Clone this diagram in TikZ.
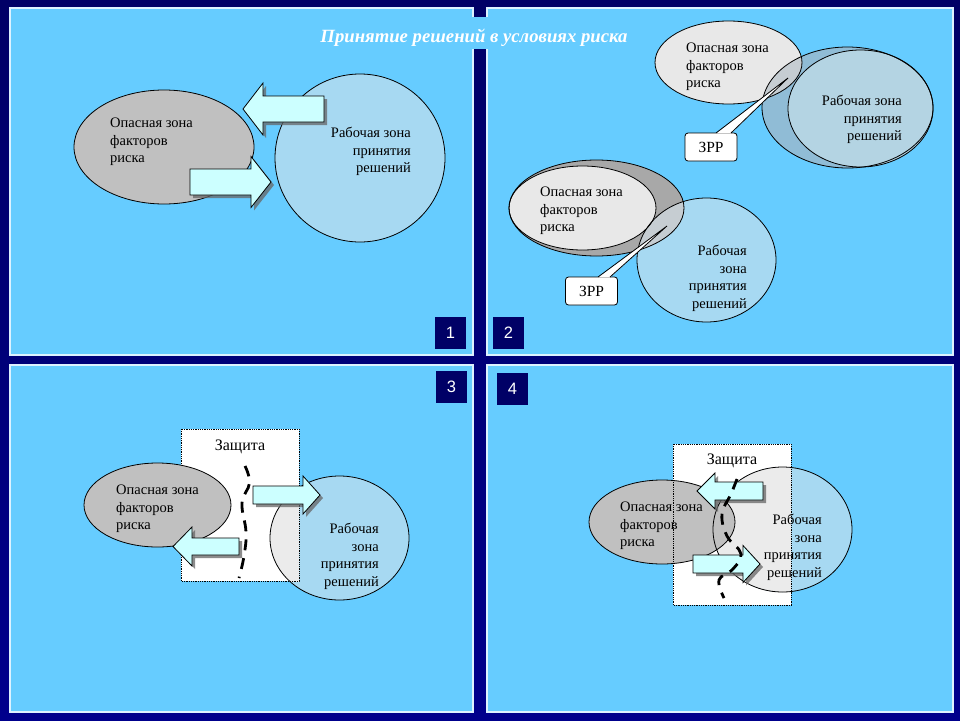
\documentclass[tikz,border=0pt]{standalone}
\usepackage{fontspec}
\setmainfont{Liberation Serif}
\newfontfamily\numfont{Liberation Sans}
\definecolor{bgtop}{HTML}{000066}
\definecolor{bgbot}{HTML}{00008C}
\definecolor{panelc}{HTML}{66CCFF}
\definecolor{panelborder}{HTML}{DDF2FF}
\definecolor{grayc}{HTML}{C0C0C0}
\definecolor{lgray}{HTML}{E8E8E8}
\definecolor{rgray}{HTML}{EBEBEB}
\definecolor{bluec}{HTML}{A7D9F2}
\definecolor{arrc}{HTML}{CCFFFF}
\definecolor{navyc}{HTML}{000066}
\definecolor{outerblue}{HTML}{90BCD6}
\definecolor{innerblue}{HTML}{B4D4E3}
\definecolor{mixgray}{HTML}{C6CDD2}
\definecolor{darkgray}{HTML}{A8A8A8}
\tikzset{
  panelbox/.style={fill=panelc, draw=panelborder, line width=1.3pt},
  shapeline/.style={draw=black, line width=0.8pt},
  ztext/.style={font=\fontsize{14.5}{17.5}\selectfont, inner sep=0pt, text=black},
  numbox/.style={fill=navyc, minimum width=31, minimum height=32, inner sep=0pt,
    text=white, font=\numfont\fontsize{16.5}{16.5}\selectfont},
  callbox/.style={draw=black, fill=white, rounded corners=3pt, line width=0.8pt,
    minimum width=52, minimum height=28, inner sep=0pt, font=\fontsize{15.5}{15.5}\selectfont},
  arrshadow/.style={fill=black!60, opacity=0.75},
  arrbody/.style={fill=arrc, draw=black, line width=0.8pt},
  protect/.style={fill=white, draw=black, densely dotted, line width=0.8pt},
  dashcurve/.style={draw=black, line width=2.8pt, dash pattern=on 11pt off 8pt},
}
\newcommand\blkarr[6]{%
  \fill[arrshadow, shift={(3,3)}] (#1,#3-#4) -- (#6,#3-#4) -- (#6,#3-#5) -- (#2,#3)
     -- (#6,#3+#5) -- (#6,#3+#4) -- (#1,#3+#4) -- cycle;
  \path[arrbody] (#1,#3-#4) -- (#6,#3-#4) -- (#6,#3-#5) -- (#2,#3)
     -- (#6,#3+#5) -- (#6,#3+#4) -- (#1,#3+#4) -- cycle;}
\begin{document}
\begin{tikzpicture}[x=1pt, y=-1pt]
\useasboundingbox (0,0) rectangle (960,720);
\shade[top color=bgtop, bottom color=bgbot] (0,0) rectangle (960,720);
% panels
\path[panelbox] (10,8) rectangle (473,355);
\path[panelbox] (487,8) rectangle (953,355);
\path[panelbox] (10,365) rectangle (473,712);
\path[panelbox] (487,365) rectangle (953,712);
\fill[panelc] (300,17) rectangle (660,49);
\node[inner sep=0pt, anchor=base, text=white, font=\fontsize{18.7}{18.7}\selectfont\bfseries\itshape] (title) at (474,42) {Принятие решений в условиях риска};

% ---------- panel 1
\path[shapeline, fill=grayc] (164,147) ellipse [x radius=90, y radius=57];
\path[shapeline, fill=bluec] (360,158) ellipse [x radius=85, y radius=84];
\blkarr{324}{243}{109}{13}{26}{263}
\blkarr{190}{271}{182}{13}{25.5}{251}
\node[ztext, align=left, anchor=north west] (p1a) at (110,118) {Опасная зона\\факторов\\риска};
\node[ztext, align=right, anchor=north east] (p1b) at (411,127) {Рабочая зона\\принятия\\решений};
\node[numbox] (n1) at (450.5,333) {1};

% ---------- panel 2 top
\path[fill=outerblue] (847.5,107.5) ellipse [x radius=85.5, y radius=60.5];
\path[fill=innerblue] (860.5,108.5) ellipse [x radius=72.5, y radius=58.5];
\path[fill=lgray] (728.5,62.5) ellipse [x radius=73.5, y radius=41.5];
\begin{scope}
  \clip (728.5,62.5) ellipse [x radius=73.5, y radius=41.5];
  \fill[mixgray] (847.5,107.5) ellipse [x radius=85.5, y radius=60.5];
\end{scope}
\draw[shapeline] (847.5,107.5) ellipse [x radius=85.5, y radius=60.5];
\draw[shapeline] (860.5,108.5) ellipse [x radius=72.5, y radius=58.5];
\draw[shapeline] (728.5,62.5) ellipse [x radius=73.5, y radius=41.5];
\node[ztext, align=left, anchor=north west] (p2a) at (686,43) {Опасная зона\\факторов\\риска};
\node[ztext, align=right, anchor=north east] (p2b) at (902,95) {Рабочая зона\\принятия\\решений};
\node[callbox] (z1) at (711,147) {ЗРР};
\fill[white] (716,133.4) -- (788,78) -- (731,133.4) -- cycle;
\draw[line width=0.8pt] (716,133) -- (788,78) -- (731,133);

% ---------- panel 2 bottom
\path[fill=bluec] (706.5,260) ellipse [x radius=69.5, y radius=62];
\path[fill=darkgray] (596.5,208) ellipse [x radius=87.5, y radius=48];
\path[fill=lgray] (582.5,208) ellipse [x radius=73.5, y radius=42];
\begin{scope}
  \clip (596.5,208) ellipse [x radius=87.5, y radius=48];
  \fill[mixgray] (706.5,260) ellipse [x radius=69.5, y radius=62];
\end{scope}
\draw[shapeline] (596.5,208) ellipse [x radius=87.5, y radius=48];
\draw[shapeline] (582.5,208) ellipse [x radius=73.5, y radius=42];
\draw[shapeline] (706.5,260) ellipse [x radius=69.5, y radius=62];
\node[ztext, align=left, anchor=north west] (p2c) at (540,187) {Опасная зона\\факторов\\риска};
\node[ztext, align=right, anchor=north east] (p2d) at (747,245) {Рабочая\\зона\\принятия\\решений};
\node[callbox] (z2) at (591.5,291) {ЗРР};
\fill[white] (598,277.4) -- (667,226) -- (610,277.4) -- cycle;
\draw[line width=0.8pt] (598,277) -- (667,226) -- (610,277);
\node[numbox] (n2) at (508.5,333) {2};

% ---------- panel 3
\path[protect] (181,429) rectangle (299,581);
\path[fill=bluec] (339.5,538) ellipse [x radius=69.5, y radius=62];
\begin{scope}
  \clip (181,429) rectangle (299,581);
  \fill[rgray] (339.5,538) ellipse [x radius=69.5, y radius=62];
\end{scope}
\draw[shapeline] (339.5,538) ellipse [x radius=69.5, y radius=62];
\draw[black, densely dotted, line width=0.8pt] (181,429) rectangle (299,581);
\path[shapeline, fill=grayc] (157.5,505) ellipse [x radius=73.5, y radius=42];
\node[ztext, anchor=base, font=\fontsize{16}{16}\selectfont] (q3) at (240,450) {Защита};
\blkarr{253}{320}{495}{9}{19}{303}
\blkarr{239}{173}{546.5}{8.5}{19.5}{192}
\draw[dashcurve] plot[smooth, tension=0.7] coordinates {(245,466) (249.5,483) (242,503) (246,532) (244,556) (239,578)};
\node[ztext, align=left, anchor=north west] (p3a) at (116,485) {Опасная зона\\факторов\\риска};
\node[ztext, align=right, anchor=north east] (p3b) at (379,523) {Рабочая\\зона\\принятия\\решений};
\node[numbox] (n3) at (451.5,387) {3};

% ---------- panel 4
\path[protect] (673,444) rectangle (791,605);
\path[fill=bluec] (782.5,529.5) ellipse [x radius=69.5, y radius=62.5];
\begin{scope}
  \clip (673,444) rectangle (791,605);
  \fill[rgray] (782.5,529.5) ellipse [x radius=69.5, y radius=62.5];
\end{scope}
\path[fill=grayc] (662,522) ellipse [x radius=73, y radius=42];
\draw[shapeline] (782.5,529.5) ellipse [x radius=69.5, y radius=62.5];
\draw[shapeline] (662,522) ellipse [x radius=73, y radius=42];
\draw[black, densely dotted, line width=0.8pt] (673,444) rectangle (791,605);
\node[ztext, anchor=base, font=\fontsize{16}{16}\selectfont] (q4) at (732,464) {Защита};
\node[ztext, align=left, anchor=north west] (p4a) at (620,502) {Опасная зона\\факторов\\риска};
\node[ztext, align=right, anchor=north east] (p4b) at (822,514) {Рабочая\\зона\\принятия\\решений};
\blkarr{763}{697}{491}{9}{18}{715}
\blkarr{693}{760}{564}{9}{18.5}{743}
\draw[dashcurve] plot[smooth, tension=0.7] coordinates {(737,479) (731,494) (722,514) (727,536) (741,554) (732,570) (719,580) (724,598)};
\node[numbox] (n4) at (512.5,388.5) {4};
\end{tikzpicture}
\end{document}
